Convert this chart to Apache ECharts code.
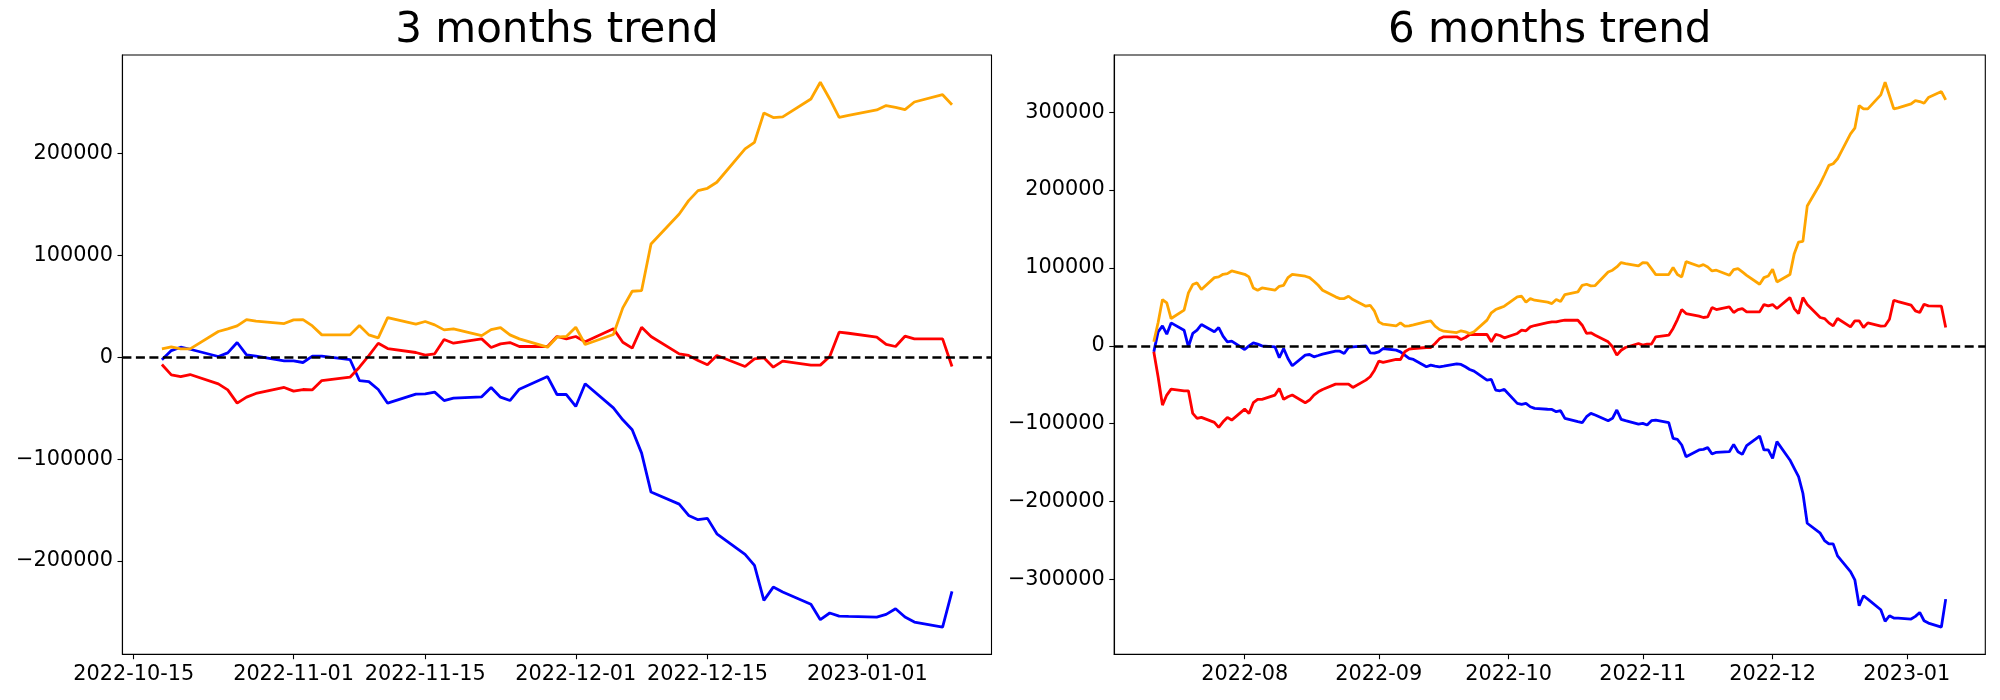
<!DOCTYPE html>
<html>
<head>
<meta charset="utf-8">
<script src="https://cdn.jsdelivr.net/npm/echarts@6/dist/echarts.min.js"></script>
<style>
html,body{margin:0;padding:0;background:#fff;}
#c{width:2000px;height:700px;}
</style>
</head>
<body>
<div id="c"></div>
<script>
// ---------- 3 months panel ----------
const dates3 = ['2022-10-18','2022-10-19','2022-10-20','2022-10-21','2022-10-24','2022-10-25','2022-10-26','2022-10-27','2022-10-28','2022-10-31',
'2022-11-01','2022-11-02','2022-11-03','2022-11-04','2022-11-07','2022-11-08','2022-11-09','2022-11-10','2022-11-11','2022-11-14','2022-11-15','2022-11-16','2022-11-17','2022-11-18','2022-11-21','2022-11-22','2022-11-23','2022-11-24','2022-11-25','2022-11-28','2022-11-29','2022-11-30',
'2022-12-01','2022-12-02','2022-12-05','2022-12-06','2022-12-07','2022-12-08','2022-12-09','2022-12-12','2022-12-13','2022-12-14','2022-12-15','2022-12-16','2022-12-19','2022-12-20','2022-12-21','2022-12-22','2022-12-23','2022-12-26','2022-12-27','2022-12-28','2022-12-29','2022-12-30',
'2023-01-02','2023-01-03','2023-01-04','2023-01-05','2023-01-06','2023-01-09','2023-01-10'];
const blue3 = [-2600,6500,9800,7800,700,4200,14400,2300,1000,-3600,
-3600,-5200,1000,1000,-2300,-22900,-23900,-31700,-45100,-36300,-35900,-34300,-42500,-40200,-38900,-29700,-39200,-42500,-31400,-19000,-36600,-36600,
-48300,-26100,-49700,-61400,-71200,-94100,-132300,-144100,-155200,-159400,-158100,-173200,-193400,-204200,-238500,-225500,-230300,-242400,-257500,-250900,-253900,-254200,
-254900,-252300,-246700,-254900,-259800,-264700,-229700];
const red3 = [-7200,-17300,-19000,-17000,-26100,-32000,-45100,-39200,-35600,-29700,
-33300,-31700,-32000,-22900,-19600,-9800,1600,13700,8500,4600,2000,3300,17300,13700,18000,9500,13100,14400,10500,10500,20300,18000,
20300,15100,28000,14700,8900,29400,20300,3300,1700,-3200,-7500,1700,-9100,-1600,-600,-9800,-3900,-7800,-7800,700,24500,23500,
19600,12500,10500,20600,18000,18000,-9100];
const orange3 = [8200,10100,8200,8200,25200,27800,30700,36900,35300,33000,
36600,36900,30700,21900,21900,31000,21900,19000,38900,32400,35000,31700,26800,27800,21200,27100,29100,21900,18000,9800,19600,20300,
29400,12500,22300,48400,64700,65400,111100,140500,153600,163400,165700,171600,204300,210800,239600,235000,235700,253300,269700,253300,235300,237300,
242500,246800,245100,242800,250300,257500,247700];
const xTicks3 = ['2022-10-15','2022-11-01','2022-11-15','2022-12-01','2022-12-15','2023-01-01'];
const yTicks3 = [-200000,-100000,0,100000,200000];

// ---------- 6 months panel ----------
const dates6 = ['2022-07-11','2022-07-12','2022-07-13','2022-07-14','2022-07-15','2022-07-18','2022-07-19','2022-07-20','2022-07-21','2022-07-22','2022-07-25','2022-07-26','2022-07-27','2022-07-28','2022-07-29',
'2022-08-01','2022-08-02','2022-08-03','2022-08-04','2022-08-05','2022-08-08','2022-08-09','2022-08-10','2022-08-11','2022-08-12','2022-08-15','2022-08-16','2022-08-17','2022-08-18','2022-08-19','2022-08-22','2022-08-23','2022-08-24','2022-08-25','2022-08-26','2022-08-29','2022-08-30','2022-08-31',
'2022-09-01','2022-09-02','2022-09-05','2022-09-06','2022-09-07','2022-09-08','2022-09-09','2022-09-12','2022-09-13','2022-09-14','2022-09-15','2022-09-16','2022-09-19','2022-09-20','2022-09-21','2022-09-22','2022-09-23','2022-09-26','2022-09-27','2022-09-28','2022-09-29','2022-09-30',
'2022-10-03','2022-10-04','2022-10-05','2022-10-06','2022-10-07','2022-10-10','2022-10-11','2022-10-12','2022-10-13','2022-10-14','2022-10-17','2022-10-18','2022-10-19','2022-10-20','2022-10-21','2022-10-24','2022-10-25','2022-10-26','2022-10-27','2022-10-28','2022-10-31',
'2022-11-01','2022-11-02','2022-11-03','2022-11-04','2022-11-07','2022-11-08','2022-11-09','2022-11-10','2022-11-11','2022-11-14','2022-11-15','2022-11-16','2022-11-17','2022-11-18','2022-11-21','2022-11-22','2022-11-23','2022-11-24','2022-11-25','2022-11-28','2022-11-29','2022-11-30',
'2022-12-01','2022-12-02','2022-12-05','2022-12-06','2022-12-07','2022-12-08','2022-12-09','2022-12-12','2022-12-13','2022-12-14','2022-12-15','2022-12-16','2022-12-19','2022-12-20','2022-12-21','2022-12-22','2022-12-23','2022-12-26','2022-12-27','2022-12-28','2022-12-29','2022-12-30',
'2023-01-02','2023-01-03','2023-01-04','2023-01-05','2023-01-06','2023-01-09','2023-01-10'];
const blue6 = [-7700,18000,25700,15000,29500,20100,-1200,15900,20100,27400,18000,23500,12400,5200,6000,
-4700,0,3900,2200,0,-1200,-15300,-3400,-16200,-25600,-11900,-11100,-14100,-12400,-10600,-6800,-6800,-9800,-2100,-1200,0,-8900,-9400,
-7700,-3400,-5500,-7700,-11900,-16200,-17500,-26900,-24700,-26000,-26900,-26000,-23000,-23900,-26900,-30300,-32400,-43900,-43100,-56800,-57700,-56000,
-73900,-75200,-73900,-78200,-80300,-81400,-81600,-84600,-83300,-93100,-97400,-98700,-91000,-86700,-88800,-96100,-93100,-82400,-94400,-96100,-100400,
-99500,-101700,-96100,-95300,-98700,-118800,-120100,-127300,-142300,-133700,-132900,-130700,-138900,-136700,-135900,-126500,-135900,-139300,-128200,-115800,-133700,-133700,
-144400,-123000,-146500,-157200,-167900,-189300,-227800,-240600,-250000,-254300,-254300,-269700,-289800,-300400,-333800,-320900,-325200,-338900,-353800,-346600,-349600,-349600,
-350800,-347400,-342300,-353000,-356000,-361100,-325200];
const red6 = [-7700,-40000,-76100,-63200,-55600,-57700,-57700,-86800,-93200,-91900,-98300,-104700,-97500,-91900,-95300,
-81200,-86800,-73000,-68800,-68800,-63200,-54700,-68800,-65400,-63200,-73000,-69600,-63200,-59000,-56000,-49100,-49100,-49100,-49100,-53400,-44000,-39700,-31200,
-19600,-21300,-17500,-17500,-7600,-4200,-3400,-2100,-2100,3000,9000,11600,11600,8200,10700,14600,14600,14600,5200,14600,13300,10300,
15900,20100,19300,24400,26100,29800,30800,30800,32100,32900,32900,26500,15900,16700,13700,5200,-1200,-11900,-5600,-2100,3000,
900,2200,2200,11600,13700,22300,33800,46600,41500,38100,36400,37200,49200,46600,50000,42800,46600,47900,43600,43600,53000,51300,
53000,47900,62000,47900,41500,62000,53000,36400,35100,29500,25700,35100,24400,32100,32100,23500,29500,25300,25700,34200,58600,56900,
52200,44900,42800,53400,51300,50900,23500];
const orange6 = [5200,30000,59400,55200,35100,45800,68000,78700,80800,72300,87600,88500,91900,92800,96200,
91900,88500,74400,71400,74400,71400,76500,77800,87600,91900,89400,87600,83000,77800,71400,62900,60700,60700,63700,59400,50900,52100,44500,
30800,27800,25700,29500,25300,25700,27000,31200,32100,25300,21000,18800,17100,19300,18000,15900,18000,33000,42400,46600,48800,50900,
62900,63700,56000,60700,58600,56200,54300,59400,56900,65900,69300,77800,79100,77000,77400,94900,97100,101300,106900,105600,102600,
106900,106500,99200,91500,91500,100500,91500,88500,108200,102200,104300,101300,96200,97100,90600,97900,99200,94900,90600,79100,87600,89700,
98300,82100,91500,118400,133300,134200,179500,208200,219700,231700,233800,240200,272300,279500,308600,304300,304300,322300,338500,321400,304300,305600,
310700,315000,313700,311500,318800,326500,315800];
const xTicks6 = ['2022-08-01','2022-09-01','2022-10-01','2022-11-01','2022-12-01','2023-01-01'];
const yTicks6 = [-300000,-200000,-100000,0,100000,200000,300000];

const titles = ['3 months trend', '6 months trend'];

// ---------- helpers ----------
function ts(s){ const p = s.split('-').map(Number); return Date.UTC(p[0], p[1]-1, p[2]); }
function pad(n){ return (n<10?'0':'') + n; }
function fmtDay(v){ const d = new Date(v); return d.getUTCFullYear()+'-'+pad(d.getUTCMonth()+1)+'-'+pad(d.getUTCDate()); }
function fmtMonth(v){ const d = new Date(v); return d.getUTCFullYear()+'-'+pad(d.getUTCMonth()+1); }
function fmtNum(v){ return String(v).replace('-', '\u2212'); }
function pairs(dates, vals){ return dates.map((d,i)=>[ts(d), vals[i]]); }

const FONT = 'DejaVu Sans';
const LABEL_SIZE = 20.8;
const grids = [
  {left: 122.4, top: 55, width: 869.1, height: 599.3},
  {left: 1114.2, top: 55, width: 871.1, height: 599.3}
];
const panels = [
  {dates: dates3, blue: blue3, red: red3, orange: orange3, xt: xTicks3, yt: yTicks3, fmt: fmtDay},
  {dates: dates6, blue: blue6, red: red6, orange: orange6, xt: xTicks6, yt: yTicks6, fmt: fmtMonth}
];

const option = {
  animation: false,
  backgroundColor: '#fff',
  grid: grids.map(g => Object.assign({show: true, borderColor: '#000', borderWidth: 1.1, backgroundColor: 'transparent'}, g)),
  xAxis: [], yAxis: [], series: [],
  graphic: []
};

panels.forEach((p, i) => {
  const t0 = ts(p.dates[0]), t1 = ts(p.dates[p.dates.length-1]);
  const xm = 0.05 * (t1 - t0);
  const all = p.blue.concat(p.red, p.orange);
  const lo = Math.min.apply(null, all), hi = Math.max.apply(null, all);
  const ym = 0.05 * (hi - lo);
  const xtv = p.xt.map(ts);
  option.xAxis.push({
    type: 'value', gridIndex: i, min: t0 - xm, max: t1 + xm, scale: true,
    axisLine: {show: true, onZero: false, lineStyle: {color: '#000', width: 1.1}},
    axisTick: {show: true, customValues: xtv, length: 4.9, lineStyle: {color: '#000', width: 1.1}},
    axisLabel: {show: true, customValues: xtv, formatter: p.fmt, margin: 9.5, color: '#000', fontFamily: FONT, fontSize: LABEL_SIZE, hideOverlap: false},
    splitLine: {show: false}
  });
  option.yAxis.push({
    type: 'value', gridIndex: i, min: lo - ym, max: hi + ym,
    axisLine: {show: true, onZero: false, lineStyle: {color: '#000', width: 1.1}},
    axisTick: {show: true, customValues: p.yt, length: 4.9, lineStyle: {color: '#000', width: 1.1}},
    axisLabel: {show: true, customValues: p.yt, formatter: fmtNum, margin: 9.5, color: '#000', fontFamily: FONT, fontSize: LABEL_SIZE},
    splitLine: {show: false}
  });
  [['blue','#0000ff'],['red','#ff0000'],['orange','#ffa500']].forEach(([k,c], j) => {
    const s = {
      type: 'line', xAxisIndex: i, yAxisIndex: i, data: pairs(p.dates, p[k]),
      showSymbol: false, symbol: 'none', smooth: false,
      lineStyle: {color: c, width: 2.8}, itemStyle: {color: c}, silent: true, z: 2 + j
    };
    if (k === 'orange') {
      s.markLine = {
        silent: true, symbol: ['none','none'], label: {show: false}, animation: false,
        lineStyle: {color: '#000', type: [9, 4.5], width: 2.5},
        data: [{yAxis: 0}]
      };
    }
    option.series.push(s);
  });
  const g = grids[i];
  option.graphic.push({
    type: 'text', x: g.left + g.width/2, y: 31,
    style: {text: titles[i], font: '42px "DejaVu Sans"', fill: '#000', align: 'center', verticalAlign: 'middle'}
  });
});

const chart = echarts.init(document.getElementById('c'), null, {renderer: 'canvas'});
chart.setOption(option);
</script>
</body>
</html>
